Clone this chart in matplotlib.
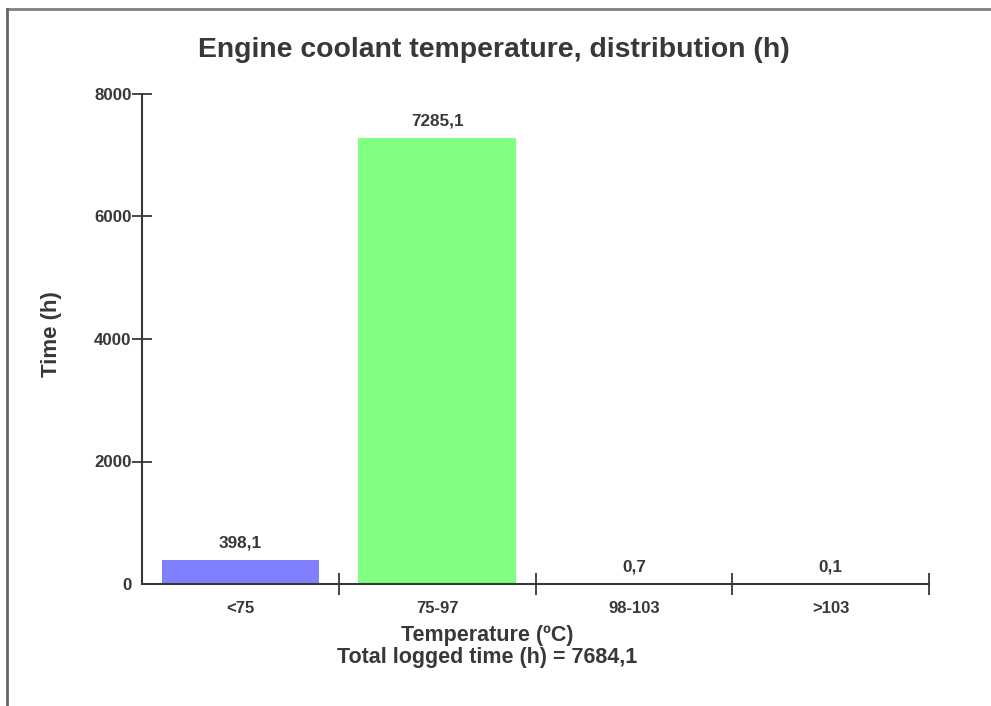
import numpy as np
import matplotlib.pyplot as plt
from matplotlib.lines import Line2D

categories = ["<75", "75-97", "98-103", ">103"]
hours = [398.1, 7285.1, 0.7, 0.1]
bar_colors = ["#8080ff", "#80ff80", "#8080ff", "#80ff80"]
y_ticks = [0, 2000, 4000, 6000, 8000]
total_hours = 7684.1

plt.rcParams["font.family"] = ["Liberation Sans", "DejaVu Sans"]
text_color = "#383838"
line_color = "#383838"

W, H = 991, 706
fig = plt.figure(figsize=(W / 100, H / 100), dpi=100)

# axes placed in pixel terms
left, right, bottom, top = 142, 929, 584, 94
ax = fig.add_axes([left / W, 1 - bottom / H, (right - left) / W, (bottom - top) / H])

x = np.arange(len(categories))
ax.bar(x, hours, width=0.8, color=bar_colors, zorder=2)

for xi, v in zip(x, hours):
    ax.annotate(f"{v:.1f}".replace(".", ","), (xi, v), xytext=(0, 9),
                textcoords="offset points", ha="center", va="baseline",
                fontsize=12.3, fontweight="bold", color=text_color)

ax.set_xlim(-0.5, len(categories) - 0.5)
ax.set_ylim(0, 8000)
ax.set_yticks(y_ticks)
ax.set_yticklabels([str(t) for t in y_ticks], fontsize=12.2, fontweight="bold", color=text_color)

# tick marks on the category boundaries, labels in the middle
ax.set_xticks(np.arange(1, len(categories) + 1) - 0.5)
ax.set_xticklabels([])
ax.set_xticks(x, minor=True)
ax.set_xticklabels(categories, minor=True, fontsize=12, fontweight="bold", color=text_color)
ax.tick_params(axis="x", which="minor", length=0, pad=12)
ax.tick_params(axis="x", which="major", direction="inout", length=16, width=1.3, color=line_color)
ax.tick_params(axis="y", direction="inout", length=15, width=1.3, color=line_color, pad=0)
ax.yaxis.get_major_ticks()[0].tick1line.set_visible(False)

for side in ["top", "right"]:
    ax.spines[side].set_visible(False)
for side in ["left", "bottom"]:
    ax.spines[side].set_color(line_color)
    ax.spines[side].set_linewidth(1.5)

fig.text(494 / W, 1 - 50 / H, "Engine coolant temperature, distribution (h)",
         ha="center", va="center", fontsize=20.4, fontweight="bold", color=text_color)
fig.text(52 / W, 1 - 334 / H, "Time (h)", rotation=90, ha="center", va="center",
         fontsize=16, fontweight="bold", color=text_color)
fig.text(487 / W, 1 - 636 / H, "Temperature (ºC)",
         ha="center", va="center", fontsize=15.5, fontweight="bold", color=text_color)
fig.text(487 / W, 1 - 658 / H,
         "Total logged time (h) = " + f"{total_hours:.1f}".replace(".", ","),
         ha="center", va="center", fontsize=15.5, fontweight="bold", color=text_color)

# outer frame lines (top and left only)
fig.add_artist(Line2D([7 / W, 1], [1 - 9 / H, 1 - 9 / H], color="#808080", lw=2,
                      transform=fig.transFigure))
fig.add_artist(Line2D([7 / W, 7 / W], [0, 1 - 9 / H], color="#666666", lw=2,
                      transform=fig.transFigure))

fig.savefig("out.png", dpi=100)
